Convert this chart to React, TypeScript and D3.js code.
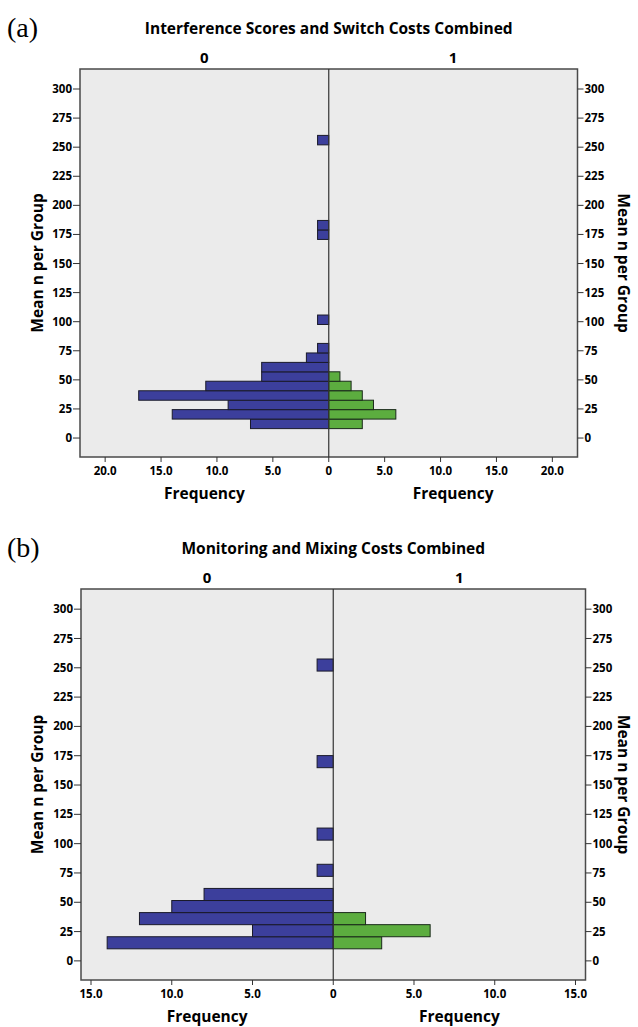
import React from 'react';
import * as d3 from 'd3';

// panel (a): bins of "Mean n per Group" (lower edge), width ~8.13
const topBinStart = [8.1, 16.3, 24.4, 32.5, 40.7, 48.8, 56.9, 65.0, 73.2, 97.6, 170.7, 178.9, 252.0];
const topBinWidth = 8.13;
const topGroup0 = [7, 14, 9, 17, 11, 6, 6, 2, 1, 1, 1, 1, 1];
const topGroup1 = [3, 6, 4, 3, 2, 1, 0, 0, 0, 0, 0, 0, 0];
const topFreqTicks = [0, 5, 10, 15, 20];

// panel (b): bins width ~10.3
const botBinStart = [10.3, 20.6, 30.9, 41.2, 51.5, 72.1, 103.0, 164.8, 247.2];
const botBinWidth = 10.3;
const botGroup0 = [14, 5, 12, 10, 8, 1, 1, 1, 1];
const botGroup1 = [3, 6, 2, 0, 0, 0, 0, 0, 0];
const botFreqTicks = [0, 5, 10, 15];

const meanTicks = [0, 25, 50, 75, 100, 125, 150, 175, 200, 225, 250, 275, 300];
const groupNames = ['0', '1'];

const FONT = '"Open Sans", "Liberation Sans", sans-serif';
const BLUE = '#3c3f9c';
const GREEN = '#5cad3f';

function Pyramid(props) {
    const { letter, title, starts, binWidth, left, right, freqTicks, freqMax, box } = props;
    const { x0, x1, top, bottom } = box;
    const mid = (x0 + x1) / 2;

    const y = d3.scaleLinear().domain([-16.3, 317.2]).range([bottom, top]);
    const xl = d3.scaleLinear().domain([0, freqMax]).range([mid, x0]);
    const xr = d3.scaleLinear().domain([0, freqMax]).range([mid, x1]);
    const fmt = (v) => (v === 0 ? '0' : v.toFixed(1));

    const rows = starts.map((s, i) => ({ lo: s, hi: s + binWidth, a: left[i], b: right[i] }));

    return (
        <g>
            <text x={7} y={top - 42} dy="0.35em" fontFamily='"Liberation Serif", serif' fontSize={28}>{letter}</text>
            <text x={mid} y={top - 40} dy="0.35em" textAnchor="middle" fontFamily={FONT} fontWeight={700} fontSize={15.5}>{title}</text>
            <text x={(x0 + mid) / 2} y={top - 11} dy="0.35em" textAnchor="middle" fontFamily={FONT} fontWeight={700} fontSize={15}>{groupNames[0]}</text>
            <text x={(mid + x1) / 2} y={top - 11} dy="0.35em" textAnchor="middle" fontFamily={FONT} fontWeight={700} fontSize={15}>{groupNames[1]}</text>

            <rect x={x0} y={top} width={x1 - x0} height={bottom - top} fill="#ebebeb" stroke="#4a4a4a" strokeWidth={1.5} />

            {rows.filter(r => r.a > 0).map((r, i) => (
                <rect key={'a' + i} x={xl(r.a)} y={y(r.hi)} width={mid - xl(r.a)} height={y(r.lo) - y(r.hi)}
                    fill={BLUE} stroke="#1a1a2a" strokeWidth={1} />
            ))}
            {rows.filter(r => r.b > 0).map((r, i) => (
                <rect key={'b' + i} x={mid} y={y(r.hi)} width={xr(r.b) - mid} height={y(r.lo) - y(r.hi)}
                    fill={GREEN} stroke="#1a2a1a" strokeWidth={1} />
            ))}

            <line x1={mid} x2={mid} y1={top} y2={bottom} stroke="#333" strokeWidth={1.2} />

            {meanTicks.map(t => (
                <g key={'yt' + t} fontFamily={FONT} fontWeight={700} fontSize={11.5}>
                    <line x1={x0 - 7} x2={x0} y1={y(t)} y2={y(t)} stroke="#333" />
                    <text x={x0 - 8} y={y(t)} dy="0.35em" textAnchor="end">{t}</text>
                    <line x1={x1} x2={x1 + 6} y1={y(t)} y2={y(t)} stroke="#333" />
                    <text x={x1 + 7} y={y(t)} dy="0.35em">{t}</text>
                </g>
            ))}

            {freqTicks.map(t => (
                <g key={'xt' + t} fontFamily={FONT} fontWeight={700} fontSize={11.5} textAnchor="middle">
                    <line x1={xl(t)} x2={xl(t)} y1={bottom} y2={bottom + 5} stroke="#333" />
                    <text x={xl(t)} y={bottom + 14} dy="0.35em">{fmt(t)}</text>
                    {t > 0 && <line x1={xr(t)} x2={xr(t)} y1={bottom} y2={bottom + 5} stroke="#333" />}
                    {t > 0 && <text x={xr(t)} y={bottom + 14} dy="0.35em">{fmt(t)}</text>}
                </g>
            ))}

            <text x={(x0 + mid) / 2} y={bottom + 37} dy="0.35em" textAnchor="middle" fontFamily={FONT} fontWeight={700} fontSize={15.5}>Frequency</text>
            <text x={(mid + x1) / 2} y={bottom + 37} dy="0.35em" textAnchor="middle" fontFamily={FONT} fontWeight={700} fontSize={15.5}>Frequency</text>

            <text transform={`translate(38, ${(top + bottom) / 2}) rotate(-90)`} dy="0.35em" textAnchor="middle"
                fontFamily={FONT} fontWeight={700} fontSize={15.5}>Mean n per Group</text>
            <text transform={`translate(623, ${(top + bottom) / 2}) rotate(90)`} dy="0.35em" textAnchor="middle"
                fontFamily={FONT} fontWeight={700} fontSize={15.5}>Mean n per Group</text>
        </g>
    );
}

export default function App() {
    return (
        <svg width={638} height={1027} style={{ position: 'absolute', left: 0, top: 0, background: '#fff' }}>
            <Pyramid letter="(a)" title="Interference Scores and Switch Costs Combined"
                starts={topBinStart} binWidth={topBinWidth} left={topGroup0} right={topGroup1}
                freqTicks={topFreqTicks} freqMax={22.25}
                box={{ x0: 80, x1: 577.5, top: 69, bottom: 457 }} />
            <Pyramid letter="(b)" title="Monitoring and Mixing Costs Combined"
                starts={botBinStart} binWidth={botBinWidth} left={botGroup0} right={botGroup1}
                freqTicks={botFreqTicks} freqMax={15.62}
                box={{ x0: 81, x1: 585.5, top: 589, bottom: 980 }} />
        </svg>
    );
}
